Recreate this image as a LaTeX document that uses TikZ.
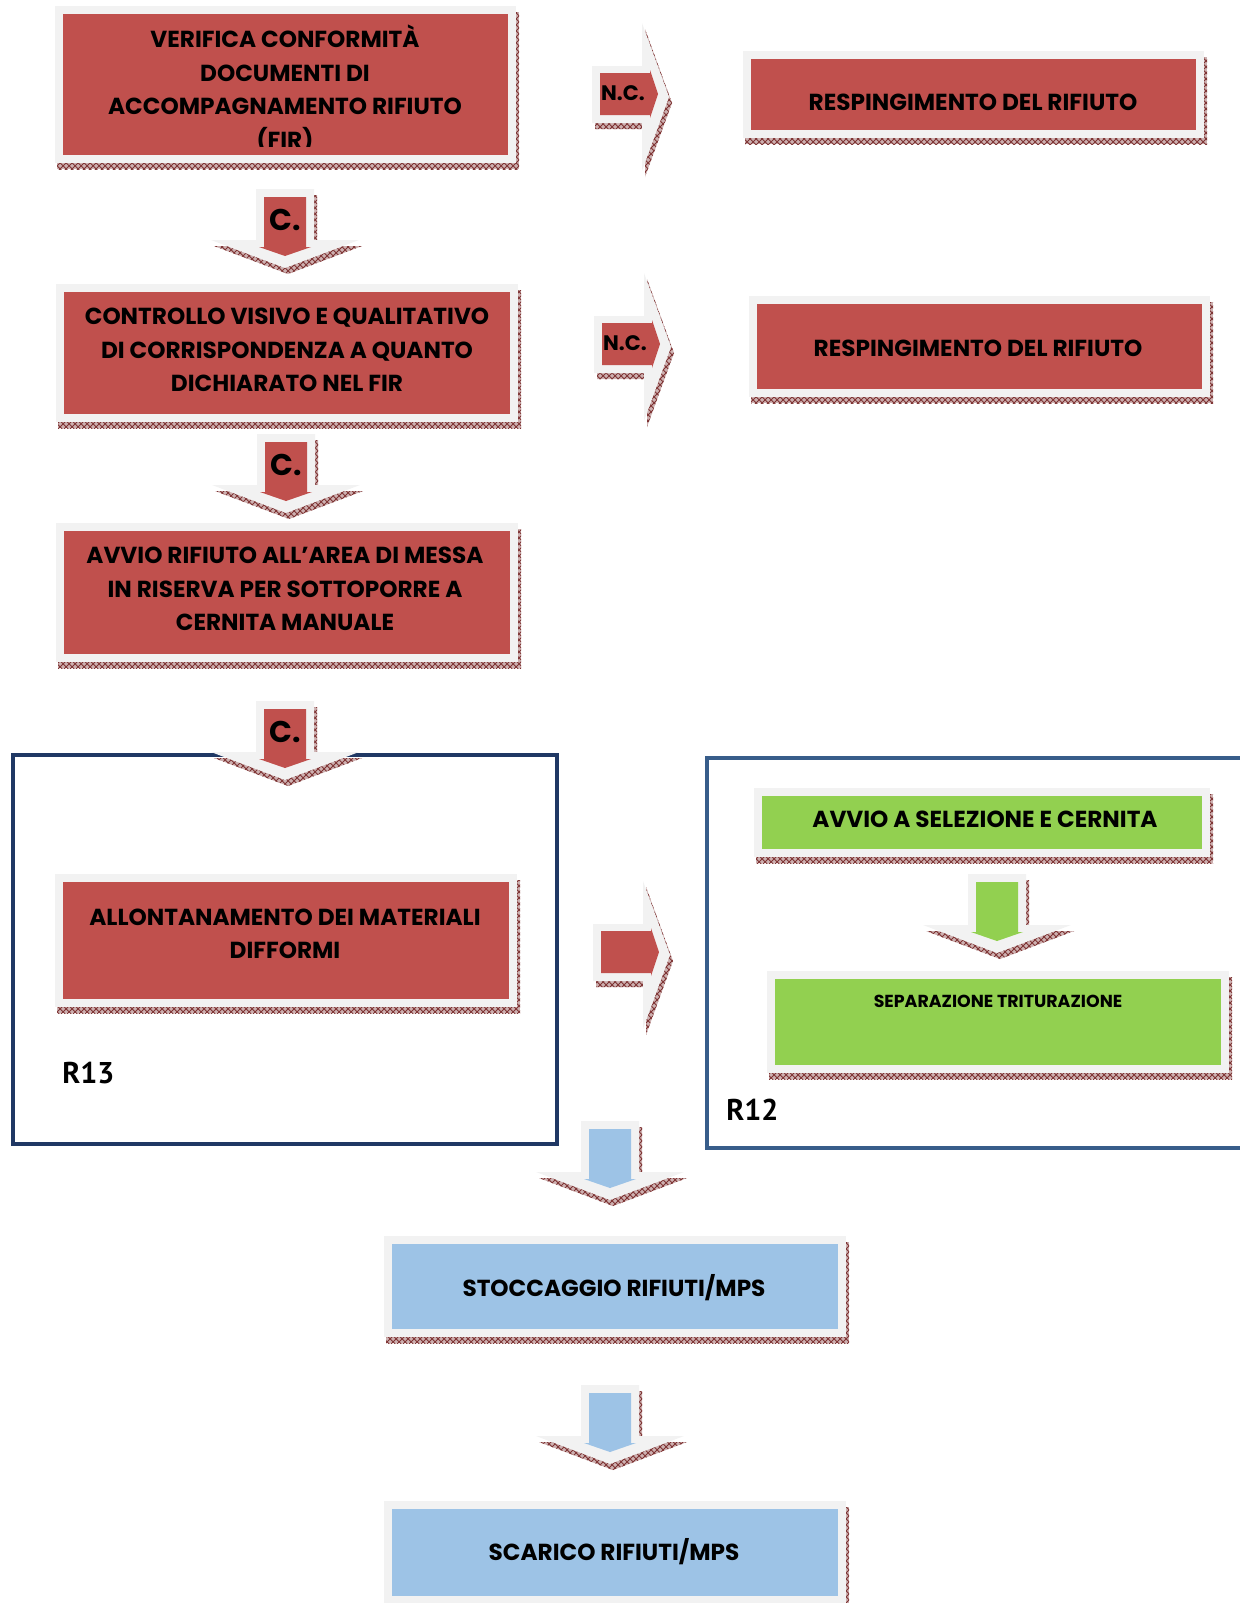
\documentclass[tikz,border=0pt]{standalone}
\usepackage{fontspec}
\setmainfont{Poppins}
\newfontfamily\labelfont{PT Sans}
\usetikzlibrary{patterns}

\definecolor{boxred}{HTML}{C0504D}
\definecolor{boxgreen}{HTML}{92D050}
\definecolor{boxblue}{HTML}{9DC3E6}
\definecolor{framegray}{HTML}{F2F2F2}
\definecolor{shadowfill}{HTML}{CDB0B0}
\definecolor{shadowline}{HTML}{7E3333}
\definecolor{navyframe}{HTML}{203864}
\definecolor{steelframe}{HTML}{385D8A}

\tikzset{
  boxframe/.style={draw=framegray, line width=4pt, inner sep=0pt, outer sep=0pt},
  boxshadow/.style={fill=shadowfill, postaction={pattern=crosshatch, pattern color=shadowline}},
  boxtext/.style={font=\fontsize{11.6}{16.75}\selectfont\bfseries, align=center, inner sep=0pt},
  smalltext/.style={font=\fontsize{8.7}{10}\selectfont\bfseries, align=center, inner sep=0pt},
  ctext/.style={font=\fontsize{15}{15}\selectfont\bfseries, inner sep=0pt},
  nctext/.style={font=\fontsize{10.5}{10.5}\selectfont\bfseries, inner sep=0pt},
  areaframe/.style={draw=#1, line width=2pt, inner sep=0pt, outer sep=0pt},
  arealabel/.style={font=\labelfont\fontsize{15}{15}\selectfont\bfseries, anchor=west, inner sep=0pt},
}

% framed box with a hatched drop shadow; arguments: name, x1, y1, x2, y2 (outer edges), colour
\newcommand\flowbox[6]{%
  \fill[boxshadow] (#2+2,#3+6) rectangle (#4+3,#5+6);
  \node[boxframe, fill=#6, minimum width={(#4-#2-8)*0.5pt}, minimum height={(#5-#3-8)*0.5pt}]
    (#1) at ({(#2+#4)/2},{(#3+#5)/2}) {};
}

% downward block arrow; arguments: name, centre x, top y, colour
\newcommand\blockdown[4]{%
  \fill[boxshadow, shift={(3,6)}] (#2-29,#3) -- (#2+29,#3) -- (#2+29,#3+51) -- (#2+74,#3+51)
    -- (#2,#3+79) -- (#2-74,#3+51) -- (#2-29,#3+51) -- cycle;
  \fill[framegray] (#2-29,#3) -- (#2+29,#3) -- (#2+29,#3+51) -- (#2+74,#3+51)
    -- (#2,#3+79) -- (#2-74,#3+51) -- (#2-29,#3+51) -- cycle;
  \fill[#4] (#2-21,#3+8) -- (#2+21,#3+8) -- (#2+21,#3+58) -- (#2+26,#3+58)
    -- (#2,#3+67) -- (#2-26,#3+58) -- (#2-21,#3+58) -- cycle;
  \coordinate (#1) at (#2,#3+31);
}

% rightward block arrow; arguments: name, left x, centre y, colour
\newcommand\blockright[4]{%
  \fill[boxshadow, shift={(3,6)}] (#2,#3-31) -- (#2+50,#3-31) -- (#2+50,#3-74) -- (#2+77,#3)
    -- (#2+50,#3+74) -- (#2+50,#3+26) -- (#2,#3+26) -- cycle;
  \fill[framegray] (#2,#3-31) -- (#2+50,#3-31) -- (#2+50,#3-74) -- (#2+77,#3)
    -- (#2+50,#3+74) -- (#2+50,#3+26) -- (#2,#3+26) -- cycle;
  \fill[#4] (#2+8,#3-24) -- (#2+58,#3-24) -- (#2+58,#3-27) -- (#2+66,#3-3)
    -- (#2+58,#3+21) -- (#2+58,#3+18) -- (#2+8,#3+18) -- cycle;
  \coordinate (#1) at (#2+31,#3-4);
}

\begin{document}
\begin{tikzpicture}[x=0.5pt,y=-0.5pt]
\useasboundingbox (0,0) rectangle (1240,1603);

% operation areas
\node[areaframe=navyframe, minimum width=272pt, minimum height=194.5pt] (r13) at (285,949.5) {};
\node[areaframe=steelframe, minimum width=271.5pt, minimum height=195pt] (r12) at (978.5,953) {};
\node[arealabel] (r13lab) at (62,1073) {R13};
\node[arealabel] (r12lab) at (726,1110) {R12};

% red acceptance steps
\flowbox{verifica}{55}{6}{516}{163}{boxred}
\begin{scope}
  \clip (63,14) rectangle (508,146);
  \node[boxtext] (verificatxt) at (285,89) {VERIFICA CONFORMITÀ\\DOCUMENTI DI\\ACCOMPAGNAMENTO RIFIUTO\\(FIR)};
\end{scope}
\flowbox{controllo}{56}{284}{518}{422}{boxred}
\node[boxtext] (controllotxt) at (287,350) {CONTROLLO VISIVO E QUALITATIVO\\DI CORRISPONDENZA A QUANTO\\DICHIARATO NEL FIR};
\flowbox{avvio}{56}{523}{518}{662}{boxred}
\node[boxtext] (avviotxt) at (285,589) {AVVIO RIFIUTO ALL’AREA DI MESSA\\IN RISERVA PER SOTTOPORRE A\\CERNITA MANUALE};
\flowbox{allontana}{55}{874}{517}{1007}{boxred}
\node[boxtext] (allontanatxt) at (285,934) {ALLONTANAMENTO DEI MATERIALI\\DIFFORMI};

% rejections
\flowbox{resp1}{743}{51}{1204}{138}{boxred}
\node[boxtext] (resp1txt) at (973,102) {RESPINGIMENTO DEL RIFIUTO};
\flowbox{resp2}{749}{296}{1210}{397}{boxred}
\node[boxtext] (resp2txt) at (978,348) {RESPINGIMENTO DEL RIFIUTO};

% R12 treatment
\flowbox{selezione}{754}{788}{1210}{857}{boxgreen}
\node[boxtext] (selezionetxt) at (985,819) {AVVIO A SELEZIONE E CERNITA};
\flowbox{separa}{767}{971}{1229}{1073}{boxgreen}
\node[smalltext] (separatxt) at (998,1001) {SEPARAZIONE TRITURAZIONE};

% storage and unloading
\flowbox{stoccaggio}{384}{1236}{846}{1337}{boxblue}
\node[boxtext] (stoccaggiotxt) at (614,1288) {STOCCAGGIO RIFIUTI/MPS};
\flowbox{scarico}{384}{1501}{846}{1604}{boxblue}
\node[boxtext] (scaricotxt) at (614,1552) {SCARICO RIFIUTI/MPS};

% block arrows
\blockdown{c1}{285}{189}{boxred}
\node[ctext] (c1lab) at (c1) {C.};
\blockdown{c2}{286}{434}{boxred}
\node[ctext] (c2lab) at (c2) {C.};
\blockdown{c3}{285}{701}{boxred}
\node[ctext] (c3lab) at (c3) {C.};
\blockright{nc1}{592}{97}{boxred}
\node[nctext] (nc1lab) at (nc1) {N.C.};
\blockright{nc2}{594}{347}{boxred}
\node[nctext] (nc2lab) at (nc2) {N.C.};
\blockright{nc3}{593}{955}{boxred}
\blockdown{g1}{997}{874}{boxgreen}
\blockdown{b1}{610}{1121}{boxblue}
\blockdown{b2}{610}{1385}{boxblue}
\end{tikzpicture}
\end{document}
